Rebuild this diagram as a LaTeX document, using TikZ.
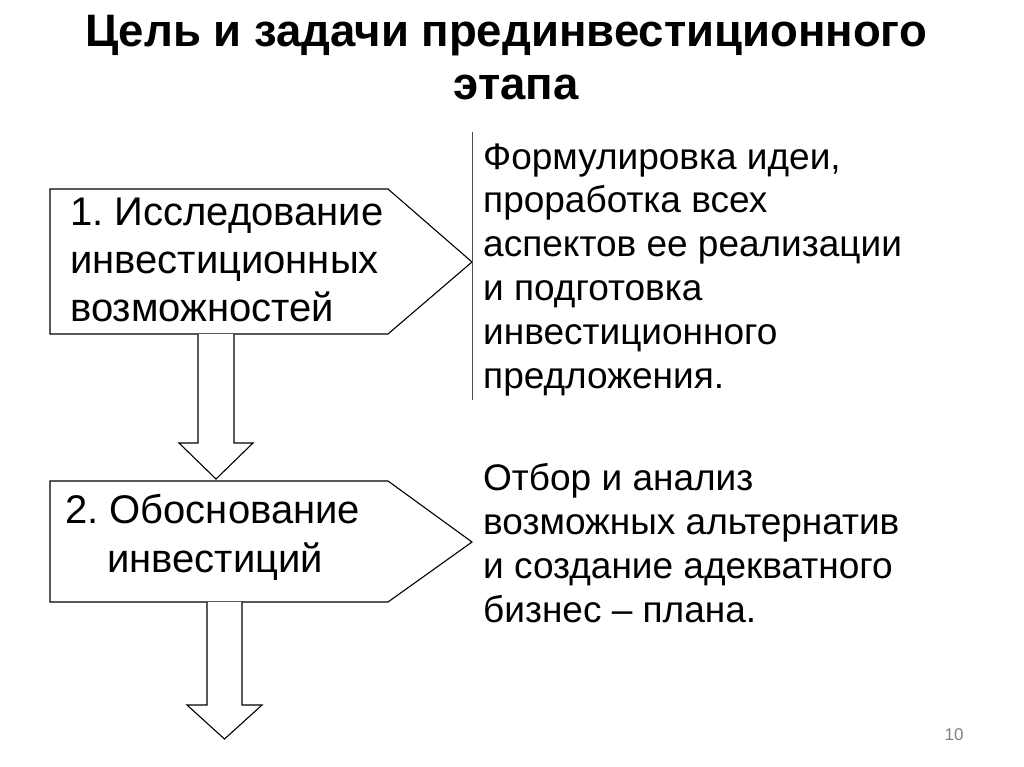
\documentclass[tikz,border=0pt]{standalone}
\usepackage{fontspec}
\setmainfont{Liberation Sans}
\begin{document}
\begin{tikzpicture}[x=1pt,y=-1pt,
  shapeline/.style={draw=black,line width=1.1pt,line join=miter},
  boxtext/.style={inner sep=0pt,anchor=base west,align=left,font=\fontsize{40}{48}\selectfont\frenchspacing},
  desctext/.style={inner sep=0pt,anchor=base west,align=left,font=\fontsize{37}{43.8}\selectfont\frenchspacing},
  titletext/.style={inner sep=0pt,anchor=base,font=\fontsize{45.5}{52}\selectfont\bfseries}]
\path[use as bounding box,fill=white] (0,0) rectangle (1024,767);
% title
\node[titletext] (title) at (506,47) {Цель и задачи прединвестиционного};
\node[titletext] (title2) at (516,100) {этапа};
% box 1
\coordinate (b1nw) at (50,189);
\coordinate (b1ne) at (388,189);
\coordinate (b1tip) at (472,262);
\coordinate (b1se) at (388,334);
\coordinate (b1sw) at (50,334);
\draw[shapeline] (b1nw) -- (b1ne) -- (b1tip) -- (b1se) -- (b1sw) -- cycle;
\node[boxtext] (t1) at (70,321) {1. Исследование\\инвестиционных\\возможностей};
% box 2
\coordinate (b2nw) at (50,481);
\coordinate (b2ne) at (388,481);
\coordinate (b2tip) at (472,542);
\coordinate (b2se) at (388,602);
\coordinate (b2sw) at (50,602);
\draw[shapeline] (b2nw) -- (b2ne) -- (b2tip) -- (b2se) -- (b2sw) -- cycle;
\node[boxtext] (t2) at (65,523) {2. Обоснование};
\node[boxtext] (t2b) at (107,572) {инвестиций};
% block arrow 1
\draw[shapeline,fill=white] (198,334) -- (198,443) -- (179,443) -- (216,479) -- (253,443) -- (234,443) -- (234,334);
% block arrow 2
\draw[shapeline,fill=white] (207,602) -- (207,705) -- (187,705) -- (224.5,739) -- (262,705) -- (242,705) -- (242,602);
% separator
\coordinate (sepTop) at (472,132);
\coordinate (sepBot) at (472,400);
\draw[draw=black!70,line width=0.9pt] (sepTop) -- (sepBot);
% descriptions
\node[desctext] (d1) at (483,388) {Формулировка идеи,\\проработка всех\\аспектов ее реализации\\и подготовка\\инвестиционного\\предложения.};
\node[desctext] (d2) at (483,622) {Отбор и анализ\\возможных альтернатив\\и создание адекватного\\бизнес – плана.};
% page number
\node[inner sep=0pt,text=black!50,font=\fontsize{17}{20}\selectfont,anchor=base] (pg) at (954,740) {10};
\end{tikzpicture}
\end{document}
